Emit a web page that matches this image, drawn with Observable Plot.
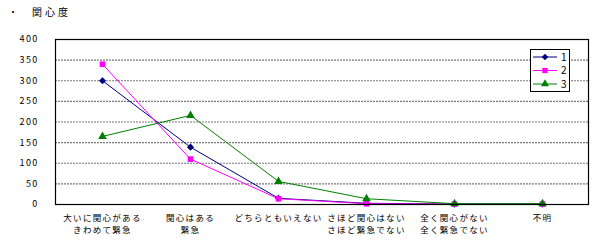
<!DOCTYPE html>
<html><head><meta charset="utf-8">
<script src="https://cdn.jsdelivr.net/npm/d3@7"></script>
<script src="https://cdn.jsdelivr.net/npm/@observablehq/plot@0.6"></script>
<style>
body{margin:0;background:#fff;}
#wrap{position:relative;width:612px;height:241px;font-family:"Noto Sans CJK JP",sans-serif;}
.t{position:absolute;top:4px;font-size:10px;}
#legend{position:absolute;left:0;top:0;}
</style></head>
<body><div id="wrap"><div class="t" style="left:8px">・</div><div class="t" style="left:32px;letter-spacing:3px">関心度</div></div>
<script>
const categories = ["大いに関心がある\nきわめて緊急","関心はある\n緊急","どちらともいえない","さほど関心はない\nさほど緊急でない","全く関心がない\n全く緊急でない","不明"];
const seriesNames = ["1","2","3"];
const series1 = [300,139,15,3,1,1];
const series2 = [340,110,14,2,1,1];
const series3 = [165,216,56,14,2,2];
const yTicks = [0,50,100,150,200,250,300,350,400];
const colors = ["#000080","#ff00ff","#008000"];
const symbols = ["diamond2","square","triangle"];

const data = [];
[series1,series2,series3].forEach((s,i)=>s.forEach((v,j)=>data.push({series:seriesNames[i],cat:categories[j],value:v})));

const plot = Plot.plot({
  width:612,height:241,
  marginLeft:55,marginRight:24,marginTop:39,marginBottom:37,
  style:{fontFamily:"'Noto Sans CJK JP',sans-serif",fontSize:"8.5px",background:"transparent"},
  x:{type:"point",domain:categories,padding:0.5,label:null},
  y:{domain:[0,400],label:null},
  color:{domain:seriesNames,range:colors},
  symbol:{domain:seriesNames,range:symbols},
  marks:[
    Plot.ruleY(yTicks.filter(d=>d>0&&d<400),{stroke:"#7f767f",strokeWidth:1.2,strokeDasharray:"2,1"}),
    Plot.axisY({ticks:yTicks,tickSize:0,tickPadding:17,fontSize:9,label:null}),
    Plot.axisX({tickSize:0,tickPadding:7,lineHeight:1.5,fontSize:8.5,label:null}),
    Plot.line(data,{x:"cat",y:"value",z:"series",stroke:"series",strokeWidth:1}),
    Plot.dot(data,{x:"cat",y:"value",symbol:"series",fill:"series",r:3.2,stroke:"none"}),
    Plot.frame({stroke:"#000",strokeWidth:1.2})
  ]
});
d3.select(plot).selectAll("[aria-label='x-axis tick label'] text, [aria-label='y-axis tick label'] text").style("letter-spacing","1.3px");
document.getElementById("wrap").prepend(plot);

// legend
const lg = d3.select("#wrap").append("svg").attr("id","legend").attr("width",612).attr("height",241);
lg.append("rect").attr("x",530.5).attr("y",49.5).attr("width",39).attr("height",42).attr("fill","#fff").attr("stroke","#000").attr("stroke-width",1);
const ly=[57,70.5,84];
const legSyms=[d3.symbolDiamond2,d3.symbolSquare,d3.symbolTriangle];
seriesNames.forEach((n,i)=>{
  lg.append("line").attr("x1",533).attr("x2",557).attr("y1",ly[i]).attr("y2",ly[i]).attr("stroke",colors[i]).attr("stroke-width",1);
  lg.append("path").attr("transform",`translate(545,${ly[i]})`).attr("d",d3.symbol(legSyms[i],28)()).attr("fill",colors[i]);
  lg.append("text").attr("x",561).attr("y",ly[i]+3.5).attr("font-size","10px").attr("font-family","'Noto Sans CJK JP',sans-serif").text(n);
});
</script></body></html>
